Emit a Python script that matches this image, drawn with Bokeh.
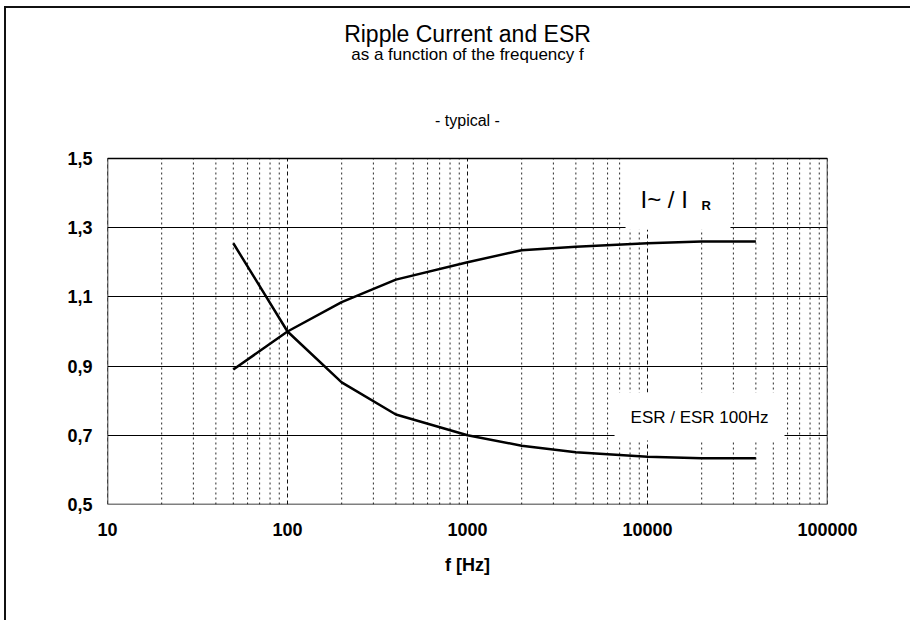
from bokeh.plotting import figure
from bokeh.models import (Range1d, FixedTicker, CustomJSTickFormatter, Label)
from bokeh.embed import file_html
from bokeh.resources import INLINE

# ---- data ----
freq_hz = [50, 100, 200, 400, 1000, 2000, 4000, 10000, 20000, 40000]
ripple_ratio = [0.89, 1.00, 1.085, 1.15, 1.20, 1.235, 1.245, 1.255, 1.26, 1.26]
esr_ratio = [1.255, 1.00, 0.853, 0.76, 0.70, 0.67, 0.651, 0.638, 0.634, 0.634]

x_ticks = [10, 100, 1000, 10000, 100000]
x_tick_labels = ["10", "100", "1000", "10000", "100000"]
y_ticks = [0.5, 0.7, 0.9, 1.1, 1.3, 1.5]
y_tick_labels = ["0,5", "0,7", "0,9", "1,1", "1,3", "1,5"]

title_text = "Ripple Current and ESR"
subtitle_text = "as a function of the frequency f"
typical_text = "- typical -"
x_label_text = "f [Hz]"
ripple_label_main = "I~ / I"
ripple_label_sub = "R"
esr_label_text = "ESR / ESR 100Hz"

FONT = "Liberation Sans"

# layout (pixels)
PLOT_TOP_PX = 150          # top of the plotting box below the canvas top
PLOT_H_PX = 346            # height of the plotting box
FIG_H = 614
BOTTOM_PX = 118
px_per_unit = PLOT_H_PX / (y_ticks[-1] - y_ticks[0])
y_min = y_ticks[0]
y_max_canvas = y_min + (FIG_H - BOTTOM_PX) / px_per_unit   # frame extends over title area


def y_at(canvas_px):
    """data y for a vertical pixel position measured from the canvas top"""
    return y_ticks[-1] + (PLOT_TOP_PX - canvas_px) / px_per_unit


p = figure(width=906, height=FIG_H, x_axis_type="log",
           x_range=Range1d(x_ticks[0], x_ticks[-1]),
           y_range=Range1d(y_min, y_max_canvas),
           output_backend="svg", toolbar_location=None,
           min_border_left=101, min_border_right=85,
           min_border_top=0, min_border_bottom=BOTTOM_PX)
p.styles = {"border-top": "2px solid #111", "border-left": "2px solid #111",
            "margin-left": "4px", "margin-top": "6px"}

p.outline_line_color = None
p.background_fill_color = "white"
p.border_fill_color = "white"
p.xgrid.visible = False

# horizontal grid
p.ygrid.ticker = FixedTicker(ticks=y_ticks)
p.ygrid.grid_line_color = "black"
p.ygrid.grid_line_width = 1.2

# vertical grid lines (log decades + minor), limited to the plotting box
minor = [m * d for d in x_ticks[:-1] for m in range(2, 10)]
p.segment(x0=minor, y0=[y_ticks[0]] * len(minor), x1=minor, y1=[y_ticks[-1]] * len(minor),
          line_color="#2a2a2a", line_width=1, line_dash="2 3")
p.segment(x0=x_ticks, y0=[y_ticks[0]] * len(x_ticks), x1=x_ticks,
          y1=[y_ticks[-1]] * len(x_ticks),
          line_color="#111111", line_width=1, line_dash="4 3")

# axes
p.xaxis.ticker = FixedTicker(ticks=x_ticks)
p.xaxis.formatter = CustomJSTickFormatter(
    args=dict(tvals=x_ticks, tlabels=x_tick_labels),
    code="""
    let best = 0, bd = Infinity;
    for (let i = 0; i < tvals.length; i++) {
        const d = Math.abs(Math.log10(tvals[i]) - Math.log10(tick));
        if (d < bd) { bd = d; best = i; }
    }
    return tlabels[best];
    """)
p.yaxis.ticker = FixedTicker(ticks=y_ticks)
p.yaxis.formatter = CustomJSTickFormatter(
    args=dict(tvals=y_ticks, tlabels=y_tick_labels),
    code="""
    let best = 0, bd = Infinity;
    for (let i = 0; i < tvals.length; i++) {
        const d = Math.abs(tvals[i] - tick);
        if (d < bd) { bd = d; best = i; }
    }
    return tlabels[best];
    """)
for ax in (p.xaxis[0], p.yaxis[0]):
    ax.axis_line_color = None
    ax.major_tick_line_color = None
    ax.minor_tick_line_color = None
    ax.major_label_text_font = FONT
    ax.major_label_text_font_size = "18px"
    ax.major_label_text_font_style = "bold"
    ax.major_label_text_color = "black"
p.yaxis.major_label_standoff = 9
p.xaxis.major_label_standoff = 12
p.xaxis.axis_label = x_label_text
p.xaxis.axis_label_text_font = FONT
p.xaxis.axis_label_text_font_size = "18px"
p.xaxis.axis_label_text_font_style = "bold"
p.xaxis.axis_label_text_color = "black"
p.xaxis.axis_label_standoff = 16

# white text boxes (Excel text frames covering the grid)
p.quad(left=[7550, 6560], right=[28900, 57700], bottom=[1.294, 0.685], top=[1.5, 0.824],
       fill_color="white", line_color=None)

# plotting box outline
p.quad(left=[x_ticks[0]], right=[x_ticks[-1]], bottom=[y_ticks[0]], top=[y_ticks[-1]],
       fill_color=None, line_color="black", line_width=1.5)

# curves
p.line(freq_hz, ripple_ratio, line_color="black", line_width=2.5)
p.line(freq_hz, esr_ratio, line_color="black", line_width=2.5)

# curve labels
p.add_layout(Label(x=9140, y=1.3815, text=ripple_label_main, text_font=FONT,
                   text_font_size="24px", text_baseline="middle", text_align="left",
                   text_color="black"))
p.add_layout(Label(x=19950, y=1.364, text=ripple_label_sub, text_font=FONT,
                   text_font_size="13px", text_font_style="bold", text_baseline="middle",
                   text_align="left", text_color="black"))
p.add_layout(Label(x=8050, y=0.751, text=esr_label_text, text_font=FONT,
                   text_font_size="17px", text_baseline="middle", text_align="left",
                   text_color="black"))

# titles
x_center = (x_ticks[0] * x_ticks[-1]) ** 0.5
p.add_layout(Label(x=x_center, y=y_at(25), text=title_text, text_font=FONT,
                   text_font_size="23px", text_align="center", text_baseline="middle",
                   text_color="black"))
p.add_layout(Label(x=x_center, y=y_at(46), text=subtitle_text, text_font=FONT,
                   text_font_size="17px", text_align="center", text_baseline="middle",
                   text_color="black"))
p.add_layout(Label(x=x_center, y=y_at(112), text=typical_text, text_font=FONT,
                   text_font_size="16px", text_align="center", text_baseline="middle",
                   text_color="black"))

open("out.html", "w").write(file_html(p, INLINE))
